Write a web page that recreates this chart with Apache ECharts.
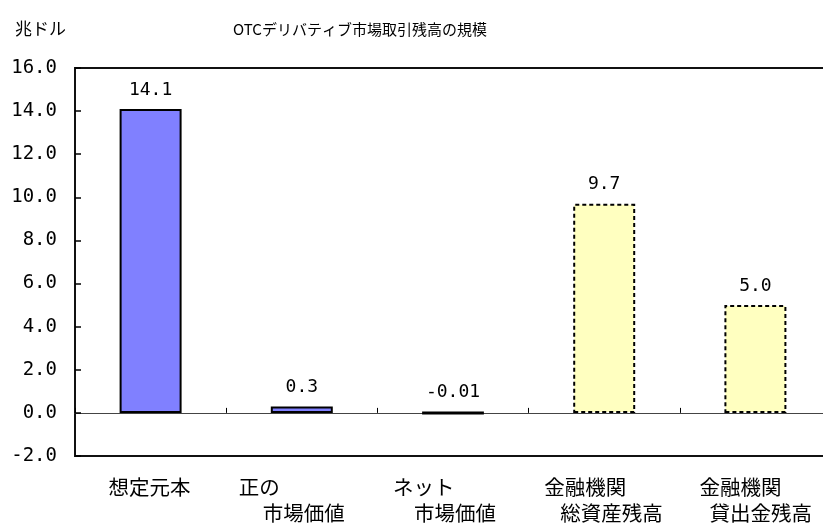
<!DOCTYPE html>
<html>
<head>
<meta charset="utf-8">
<script src="https://cdn.jsdelivr.net/npm/echarts@6/dist/echarts.min.js"></script>
<style>
  html, body { margin: 0; padding: 0; background: #fff; }
  #chart { width: 823px; height: 524px; }
</style>
</head>
<body>
<div id="chart"></div>
<script>
const unitLabel = "兆ドル";
const chartTitle = "OTCデリバティブ市場取引残高の規模";
const categories = [
  ["想定元本"],
  ["正の", "市場価値"],
  ["ネット", "市場価値"],
  ["金融機関", "総資産残高"],
  ["金融機関", "貸出金残高"],
];
const values = [14.1, 0.3, -0.01, 9.7, 5.0];
const yMin = -2;
const yMax = 16;
const yStep = 2;

// label line start offsets from category centre (px), Excel-like wrapping
const lineOffsets = [[-42], [-63, -39], [-60, -39], [-60, -44], [-56, -46]];
const BLOCK = 200;
const cjkFont = '"Noto Sans CJK JP", "Noto Sans CJK SC", sans-serif';
const numFont = '"DejaVu Sans Mono", monospace';

const rich = {};
lineOffsets.forEach((offs, i) => {
  offs.forEach((o, j) => {
    const p = BLOCK / 2 + o;
    rich["c" + i + "_" + j] = {
      width: BLOCK - p,
      padding: [0, 0, 0, p],
      align: "left",
      fontSize: 20.5,
      lineHeight: 26,
      color: "#000",
      fontFamily: cjkFont,
    };
  });
});

const chart = echarts.init(document.getElementById("chart"));

const barData = values.map((v, i) => {
  const dashed = i >= 3;
  return {
    value: v,
    itemStyle: {
      color: dashed ? "#FFFFC0" : "#8080FF",
      borderColor: "#000",
      borderWidth: Math.abs(v) < 0.1 ? 3 : 2,
      borderType: dashed ? [4, 3] : "solid",
    },
  };
});

const option = {
  animation: false,
  title: [
    {
      text: unitLabel,
      left: 10,
      top: 15,
      textStyle: { fontSize: 17, fontWeight: "normal", color: "#000", fontFamily: cjkFont },
    },
    {
      text: chartTitle,
      left: 355,
      top: 17,
      textAlign: "center",
      textStyle: { fontSize: 15, fontWeight: "normal", color: "#000", fontFamily: cjkFont },
    },
  ],
  grid: {
    left: 75,
    right: -8,
    top: 68,
    bottom: 68,
    outerBoundsMode: "none",
    containLabel: false,
    show: true,
    borderColor: "#111",
    borderWidth: 2,
  },
  xAxis: {
    type: "category",
    data: categories.map((c) => c.join("\n")),
    axisLine: { onZero: true, lineStyle: { color: "#444", width: 1 } },
    axisTick: { show: true, inside: true, length: 5, lineStyle: { color: "#000" } },
    axisLabel: {
      interval: 0,
      margin: 18,
      align: "center",
      rich,
      formatter: (val, idx) =>
        categories[idx].map((t, j) => "{c" + idx + "_" + j + "|" + t + "}").join("\n"),
    },
    splitLine: { show: false },
  },
  yAxis: {
    type: "value",
    min: yMin,
    max: yMax,
    interval: yStep,
    axisLine: { show: false },
    axisTick: { show: true, inside: true, length: 6, lineStyle: { color: "#000", width: 1.5 } },
    splitLine: { show: false },
    axisLabel: {
      margin: 18,
      fontSize: 19,
      color: "#000",
      fontFamily: numFont,
      formatter: (v) => v.toFixed(1),
    },
  },
  series: [
    {
      type: "bar",
      data: barData,
      barWidth: "41%",
      label: {
        show: true,
        position: "top",
        distance: 10,
        fontSize: 18,
        color: "#000",
        fontFamily: numFont,
        formatter: (p) => (Math.abs(p.value) < 0.1 ? p.value.toFixed(2) : p.value.toFixed(1)),
      },
    },
  ],
};

chart.setOption(option);
</script>
</body>
</html>
